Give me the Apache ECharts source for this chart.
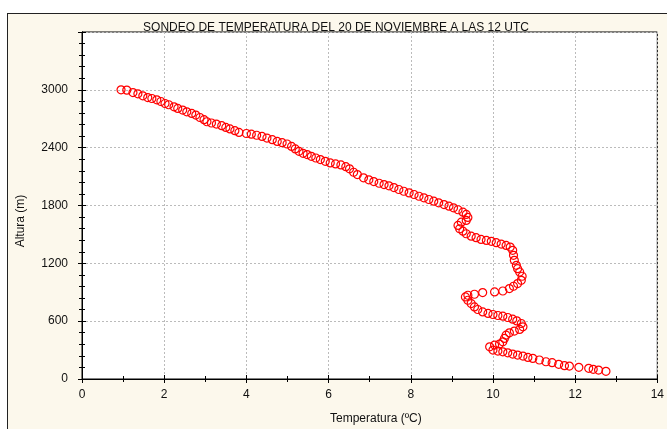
<!DOCTYPE html>
<html>
<head>
<meta charset="utf-8">
<script src="https://cdn.jsdelivr.net/npm/echarts@6/dist/echarts.min.js"></script>
<style>
html,body{margin:0;padding:0;background:#fff;}
#frame{position:absolute;left:7px;top:13px;width:700px;height:450px;background:#FCF8EC;border:1px solid #222;box-sizing:border-box;}
#chart{position:absolute;left:0;top:0;width:667px;height:429px;}
</style>
</head>
<body>
<div id="frame"></div>
<div id="chart"></div>
<script>
// Temperature (ºC), top to bottom
var temperatura = [
0.95,1.09,1.24,1.36,1.48,1.60,1.70,1.82,1.92,2.02,2.11,2.24,2.33,2.45,2.55,2.67,2.77,2.87,2.97,3.04,
3.15,3.27,3.40,3.50,3.60,3.72,3.82,4.00,4.12,4.25,4.38,4.50,4.63,4.75,4.87,4.99,5.10,5.19,5.28,5.38,
5.48,5.58,5.69,5.80,5.92,6.04,6.17,6.30,6.42,6.51,6.61,6.70,6.85,6.98,7.10,7.23,7.35,7.47,7.59,7.71,
7.83,7.96,8.08,8.20,8.32,8.44,8.56,8.68,8.81,8.93,9.04,9.15,9.27,9.35,9.39,9.35,9.23,9.15,9.19,9.27,
9.35,9.47,9.59,9.71,9.84,9.96,10.08,10.20,10.32,10.42,10.48,10.50,10.52,10.57,10.60,10.65,10.71,10.69,10.60,10.50,
10.40,10.24,10.04,9.75,9.55,9.39,9.33,9.39,9.47,9.55,9.63,9.75,9.88,10.00,10.12,10.24,10.36,10.48,10.58,10.69,
10.73,10.65,10.52,10.40,10.32,10.28,10.24,10.16,10.04,9.92,10.00,10.12,10.24,10.36,10.48,10.60,10.73,10.85,10.97,11.13,
11.29,11.44,11.60,11.74,11.86,12.09,12.33,12.44,12.57,12.75
];
// Height (m)
var altura = [
3000,2997,2972,2959,2938,2920,2910,2896,2879,2858,2845,2824,2807,2790,2772,2755,2738,2713,2690,2669,
2656,2645,2628,2610,2594,2576,2558,2547,2540,2529,2517,2500,2483,2465,2452,2438,2413,2387,2362,2341,
2328,2310,2293,2276,2258,2242,2231,2221,2203,2180,2145,2121,2087,2066,2048,2031,2017,2004,1986,1966,
1948,1931,1914,1896,1880,1862,1845,1828,1810,1793,1776,1756,1731,1707,1676,1645,1627,1593,1559,1534,
1507,1482,1466,1448,1438,1428,1414,1400,1386,1369,1335,1283,1231,1179,1145,1110,1066,1024,990,962,
938,913,903,897,879,869,851,817,783,748,721,696,680,669,659,652,638,621,603,576,
541,514,497,479,455,421,386,362,352,334,300,290,282,272,259,248,238,224,214,197,
179,169,152,138,134,121,111,100,93,80
];
var xTicks = [0,2,4,6,8,10,12,14];
var yTicks = [0,600,1200,1800,2400,3000];
var titulo = 'SONDEO DE TEMPERATURA DEL 20 DE NOVIEMBRE A LAS 12 UTC';
var ejeX = 'Temperatura (ºC)';
var ejeY = 'Altura (m)';

var pts = temperatura.map(function(t,i){return [t, altura[i]];});
var font = 'Liberation Sans, Arial, sans-serif';
var axLine = {show:true,lineStyle:{color:'#000',width:1}};
var axTick = {show:true,inside:true,length:4,lineStyle:{color:'#000'}};
var chart = echarts.init(document.getElementById('chart'), null, {renderer:'canvas'});
chart.setOption({
  animation:false,
  backgroundColor:'transparent',
  title:{text:titulo,left:331,top:17,textAlign:'center',
    textStyle:{fontFamily:font,fontSize:12,fontWeight:'normal',color:'#111'}},
  grid:{left:82,right:9,top:32,bottom:50,show:true,backgroundColor:'#fff',borderColor:'#000',borderWidth:1},
  xAxis:[
    {type:'value',position:'bottom',min:0,max:14,interval:2,
      axisLine:axLine,axisTick:axTick,
      axisLabel:{show:true,margin:10,fontFamily:font,fontSize:12,color:'#111',
        formatter:function(v){return xTicks.indexOf(v)>=0?String(v):'';}},
      minorTick:{show:true,splitNumber:2,length:3,lineStyle:{color:'#000'}},
      splitLine:{show:true,lineStyle:{color:'#bbb',type:[2,2],width:1}}
    },
    {type:'value',position:'top',min:0,max:14,interval:2,
      axisLine:axLine,axisTick:axTick,
      axisLabel:{show:false},
      minorTick:{show:true,splitNumber:2,length:3,lineStyle:{color:'#000'}},
      splitLine:{show:false}
    }
  ],
  yAxis:[
    {type:'value',position:'left',min:0,max:3600,interval:600,
      axisLine:axLine,axisTick:axTick,
      minorTick:{show:true,splitNumber:5,length:3,lineStyle:{color:'#000'}},
      axisLabel:{show:true,margin:14,fontFamily:font,fontSize:12,color:'#111',
        formatter:function(v){return yTicks.indexOf(v)>=0?String(v):'';}},
      splitLine:{show:true,lineStyle:{color:'#bbb',type:[2,2],width:1}}
    },
    {type:'value',position:'right',min:0,max:3600,interval:600,
      axisLine:axLine,axisTick:axTick,
      minorTick:{show:true,splitNumber:5,length:3,lineStyle:{color:'#000'}},
      axisLabel:{show:false},splitLine:{show:false}
    }
  ],
  graphic:[
    {type:'text',left:330,top:413,style:{text:ejeX,fontFamily:font,fontSize:12,fill:'#111',textAlign:'center'}},
    {type:'text',x:21,y:221,rotation:Math.PI/2,style:{text:ejeY,fontFamily:font,fontSize:12,fill:'#111',textAlign:'center',textVerticalAlign:'middle'}}
  ],
  series:[{
    type:'scatter',xAxisIndex:0,yAxisIndex:0,data:pts,symbol:'circle',symbolSize:8,
    itemStyle:{color:'rgba(255,255,255,0)',borderColor:'#ff0000',borderWidth:1.2,opacity:1},
    emphasis:{disabled:true}
  }]
});
</script>
</body>
</html>
